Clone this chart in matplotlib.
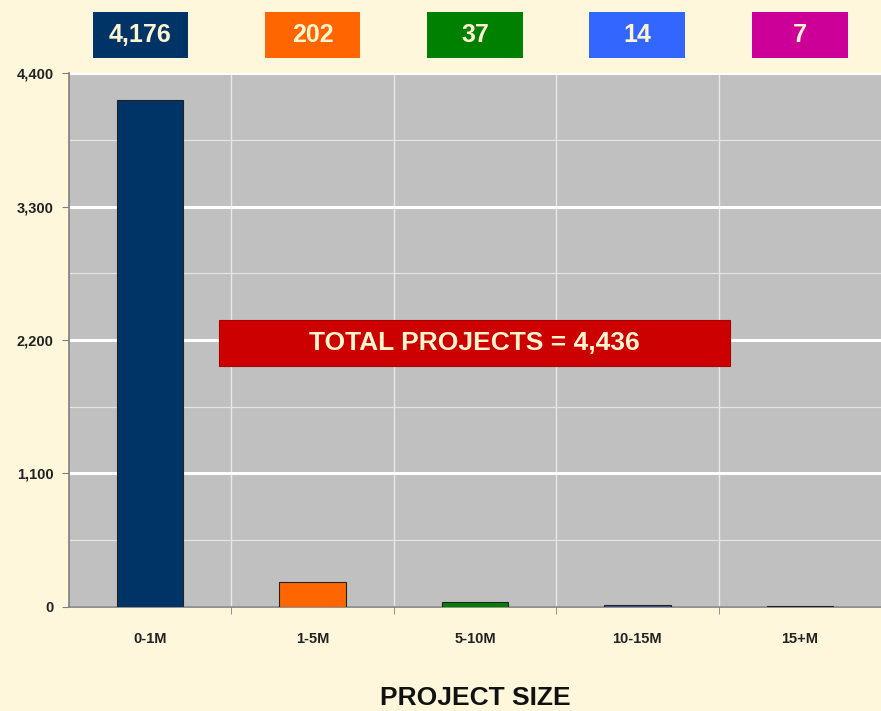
import matplotlib.pyplot as plt
from matplotlib.patches import Rectangle
from matplotlib.ticker import MultipleLocator, FuncFormatter
import matplotlib.transforms as mtransforms

plt.rcParams['font.family'] = ['Liberation Sans', 'DejaVu Sans']

sizes = ['0-1M', '1-5M', '5-10M', '10-15M', '15+M']
projects = [4176, 202, 37, 14, 7]
bar_colors = ['#003366', '#FF6600', '#008000', '#3D5A99', '#555555']
box_colors = ['#003366', '#FF6600', '#008000', '#3366FF', '#CC0099']
total_label = 'TOTAL PROJECTS = 4,436'
y_ticks = [0, 1100, 2200, 3300, 4400]

bg = '#FFF7DC'
text_cream = '#FFF5D0'

fig = plt.figure(figsize=(8.81, 7.11), dpi=100, facecolor=bg)
ax = fig.add_axes([0.0783, 0.1463, 0.9217, 0.751])
ax.set_facecolor('#C0C0C0')

x = list(range(len(sizes)))
ax.bar(x, projects, width=0.41, color=bar_colors, edgecolor='#222222', linewidth=0.8, zorder=3)

ax.set_xlim(-0.5, 4.5)
ax.set_ylim(0, 4400)
ax.set_yticks(y_ticks)
ax.yaxis.set_minor_locator(MultipleLocator(550))
ax.yaxis.set_major_formatter(FuncFormatter(lambda v, p: f'{int(v):,}'))
ax.set_xticks(x)
ax.set_xticklabels(sizes)
ax.set_xticks([i + 0.5 for i in x[:-1]], minor=True)

ax.grid(axis='y', which='major', color='white', linewidth=2.2, zorder=1)
ax.grid(axis='y', which='minor', color='#E4E4E4', linewidth=0.9, zorder=1)
ax.grid(axis='x', which='minor', color='#E8E8E8', linewidth=1.0, zorder=1)
ax.set_axisbelow(True)

for s in ['top', 'right']:
    ax.spines[s].set_visible(False)
for s in ['left', 'bottom']:
    ax.spines[s].set_color('#808080')
    ax.spines[s].set_linewidth(1.2)

ax.tick_params(axis='y', which='major', length=5, color='#808080', labelsize=10.5, pad=6)
ax.tick_params(axis='y', which='minor', length=0)
ax.tick_params(axis='x', which='major', length=0, labelsize=10.5, pad=18)
ax.tick_params(axis='x', which='minor', length=5, color='#808080')
for lbl in ax.get_xticklabels() + ax.get_yticklabels():
    lbl.set_fontweight('bold')
    lbl.set_color('#222222')

ax.set_xlabel('PROJECT SIZE', fontsize=19, fontweight='bold', color='#111111', labelpad=29)

# value boxes above the plot
trans = mtransforms.blended_transform_factory(ax.transData, ax.transAxes)
bw = 0.59
bh = 0.086
for i, (v, c) in enumerate(zip(projects, box_colors)):
    cx = i - (0.06 if i == 0 else 0)
    ax.add_patch(Rectangle((cx - bw / 2, 1.028), bw, bh, transform=trans,
                           facecolor=c, edgecolor='none', clip_on=False, zorder=5))
    ax.text(cx, 1.028 + bh / 2, f'{v:,}', transform=trans, ha='center', va='center',
            fontsize=18, fontweight='bold', color=text_cream, zorder=6)

# total box
ax.add_patch(Rectangle((0.185, 0.451), 0.629, 0.086, transform=ax.transAxes,
                       facecolor='#CC0000', edgecolor='#AA0000', linewidth=0.8, zorder=5))
ax.text(0.185 + 0.629 / 2, 0.451 + 0.043, total_label, transform=ax.transAxes,
        ha='center', va='center', fontsize=19, fontweight='bold', color=text_cream, zorder=6)

fig.savefig('out.png', dpi=100, facecolor=bg)
